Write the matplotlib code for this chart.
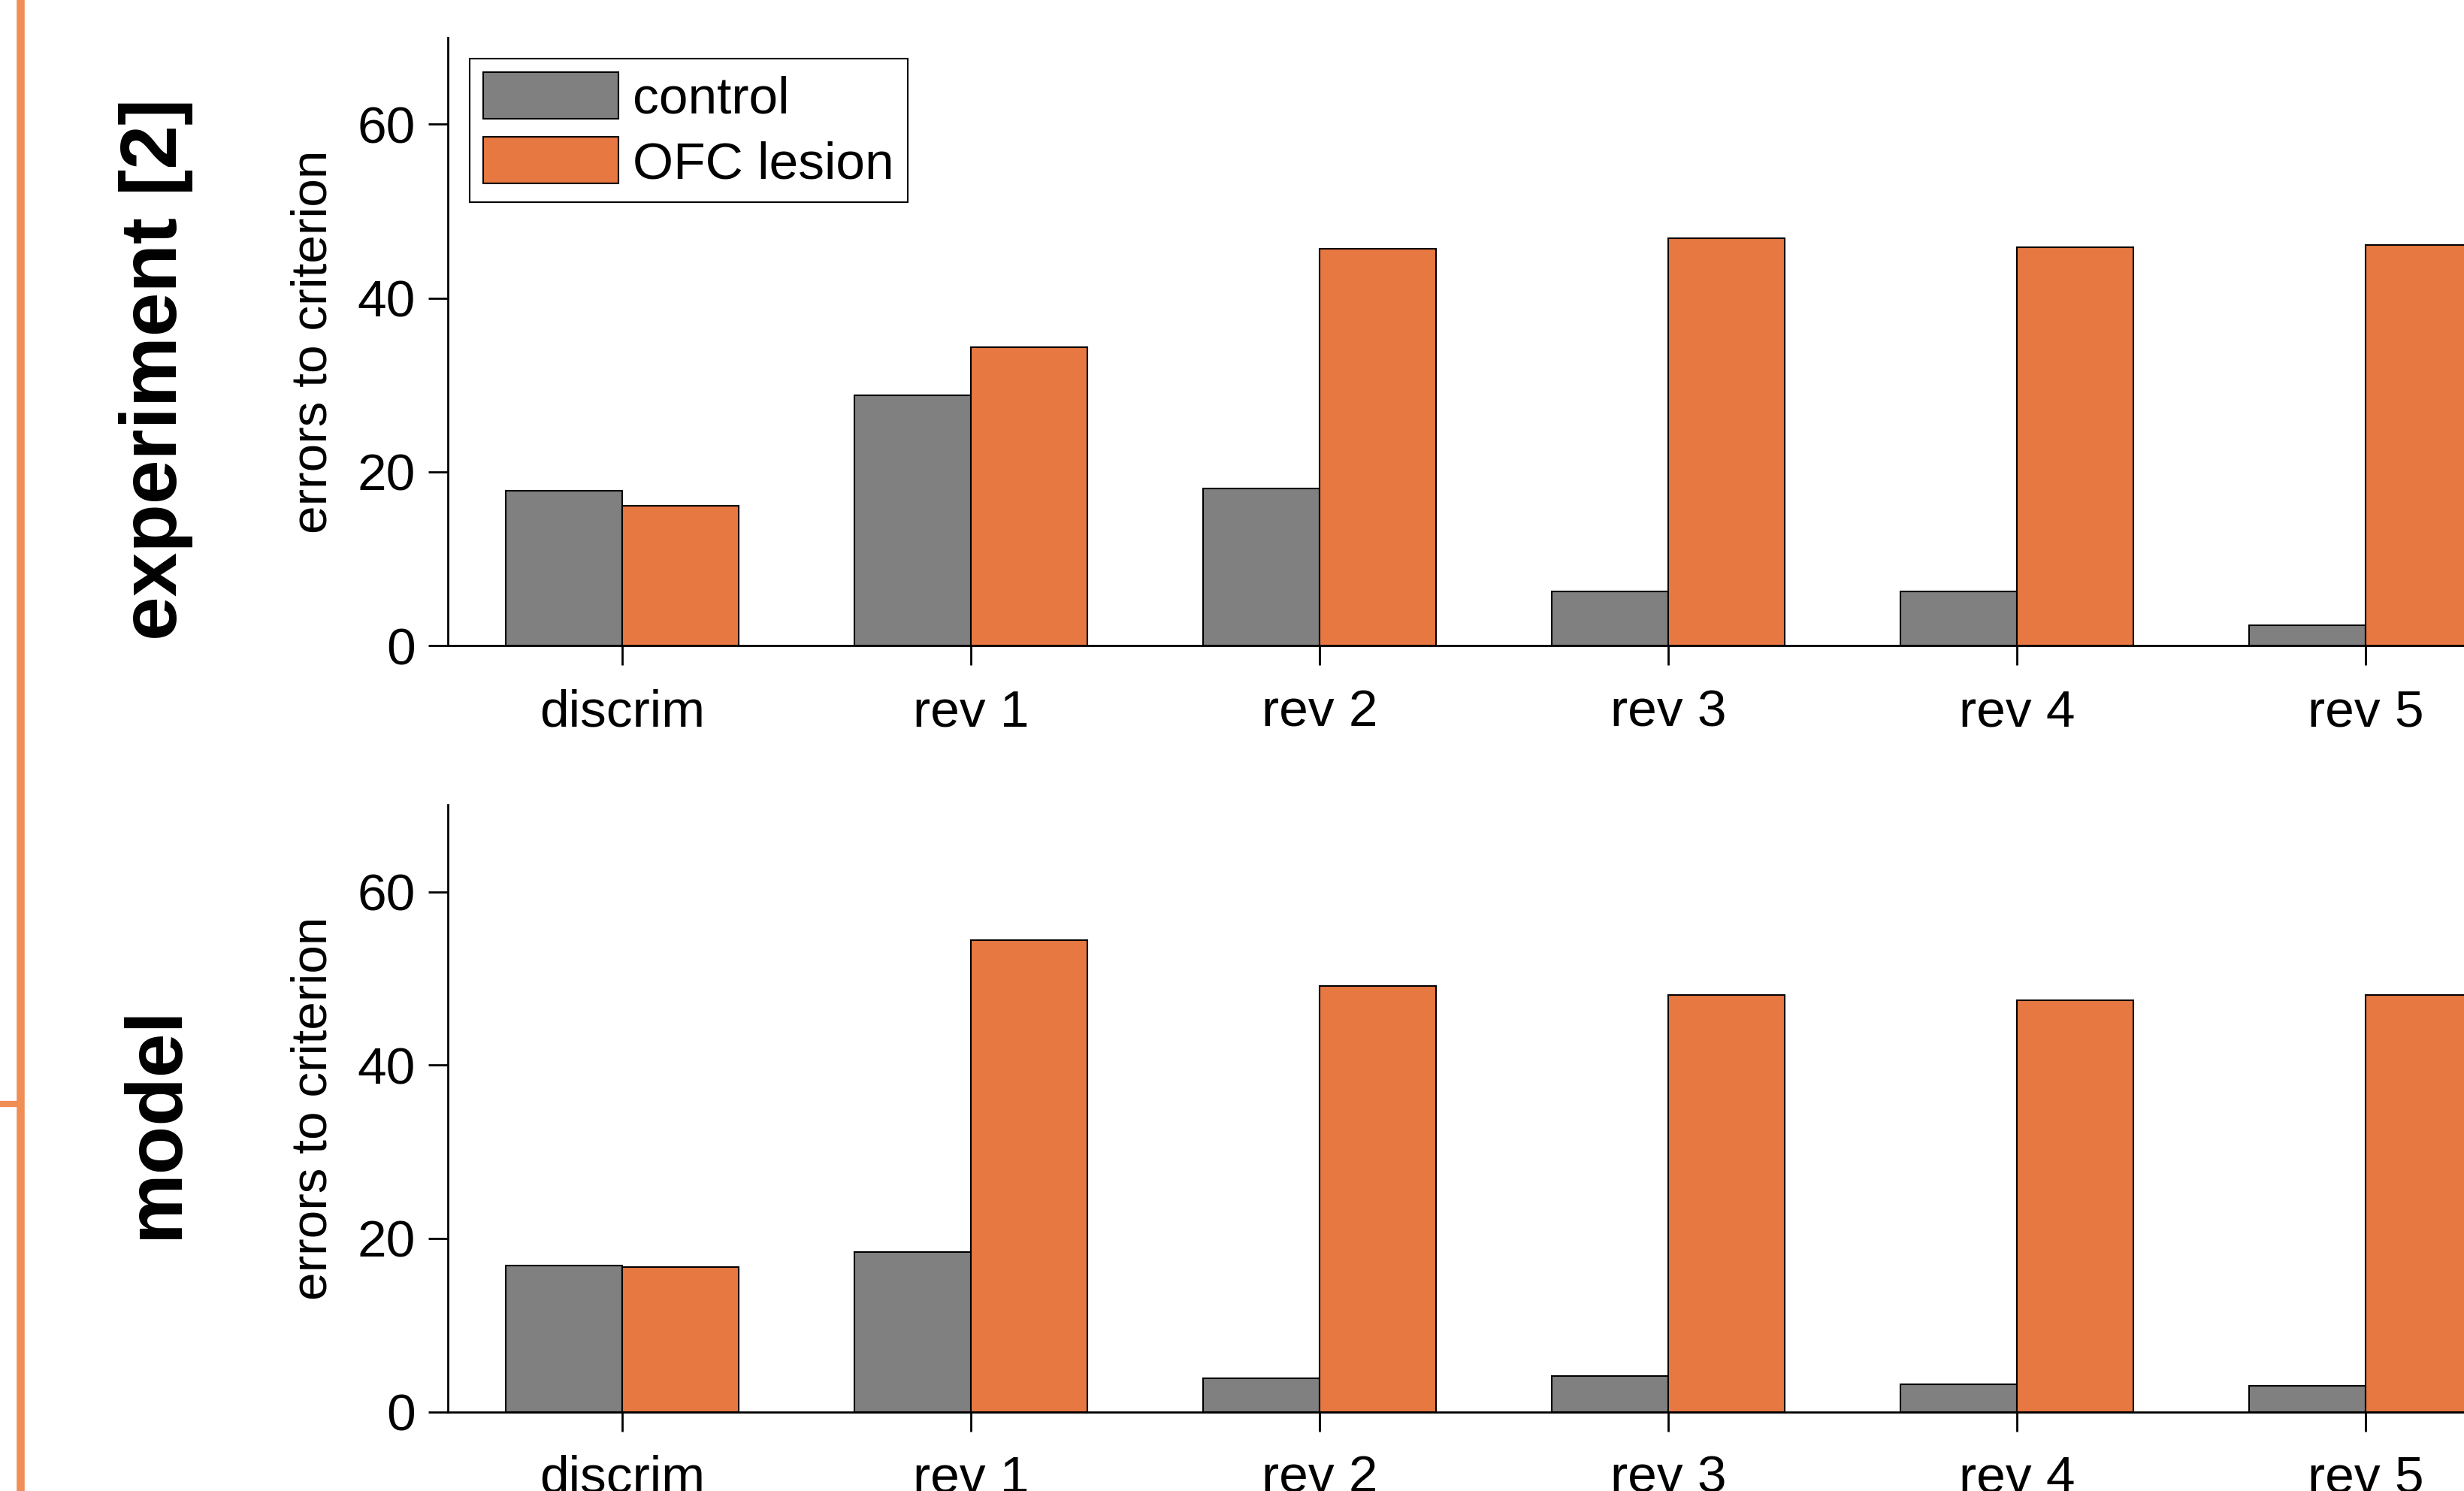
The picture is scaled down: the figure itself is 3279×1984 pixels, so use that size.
import matplotlib
matplotlib.use("Agg")
import matplotlib.pyplot as plt
import numpy as np

plt.rcParams['font.family'] = ['Liberation Sans', 'DejaVu Sans']

stages = ["discrim", "rev 1", "rev 2", "rev 3", "rev 4", "rev 5"]

exp_control = [17.8, 28.8, 18.1, 6.2, 6.2, 2.3]
exp_lesion = [16.1, 34.3, 45.7, 46.9, 45.8, 46.1]

model_control = [16.9, 18.4, 3.9, 4.1, 3.2, 3.0]
model_lesion = [16.7, 54.4, 49.1, 48.1, 47.5, 48.1]

gray = "#808080"
orange = "#e87842"
bracket = "#ef8f55"

fig = plt.figure(figsize=(16.395, 9.92), dpi=200)

ax1 = fig.add_axes([0.1818, 0.567, 0.849, 0.408])
ax2 = fig.add_axes([0.1818, 0.0531, 0.849, 0.407])

x = np.arange(len(stages))
w = 1 / 3

for ax, ctrl, les in [(ax1, exp_control, exp_lesion), (ax2, model_control, model_lesion)]:
    ax.bar(x - w / 2, ctrl, w, color=gray, edgecolor="black", linewidth=0.75, label="control")
    ax.bar(x + w / 2, les, w, color=orange, edgecolor="black", linewidth=0.75, label="OFC lesion")
    ax.set_xlim(-0.5, 5.5)
    ax.set_ylim(0, 70)
    ax.set_yticks([0, 20, 40, 60])
    ax.set_xticks(x)
    ax.set_xticklabels(stages)
    ax.spines["top"].set_visible(False)
    ax.spines["right"].set_visible(False)
    ax.spines["left"].set_linewidth(1.0)
    ax.spines["bottom"].set_linewidth(1.0)
    ax.tick_params(direction="out", length=9.5, width=1.0, labelsize=25)
    ax.tick_params(axis="y", pad=6)
    ax.tick_params(axis="x", pad=11)
    ax.set_ylabel("errors to criterion", fontsize=24.3)
    ax.yaxis.set_label_coords(-0.053, 0.5)

leg = ax1.legend(loc="upper left", bbox_to_anchor=(0.0102, 0.965), borderaxespad=0,
                 fontsize=25, fancybox=False, edgecolor="black", framealpha=1,
                 handlelength=2.6, handleheight=1.0, handletextpad=0.27,
                 labelspacing=0.25, borderpad=0.26)
leg.get_frame().set_linewidth(0.75)

fig.text(0.0634, 0.7525, "experiment [2]", rotation=90, ha="center", va="center",
         fontsize=38, fontweight="bold")
fig.text(0.0634, 0.2475, "model", rotation=90, ha="center", va="center",
         fontsize=38, fontweight="bold")

# orange bracket on the left edge
fig.add_artist(plt.Line2D([27 / 3279, 27 / 3279], [0, 1], color=bracket, linewidth=3.8))
fig.add_artist(plt.Line2D([0, 27 / 3279], [1 - 1469 / 1984, 1 - 1469 / 1984], color=bracket, linewidth=3.0))

fig.savefig("out.png", dpi=200)
